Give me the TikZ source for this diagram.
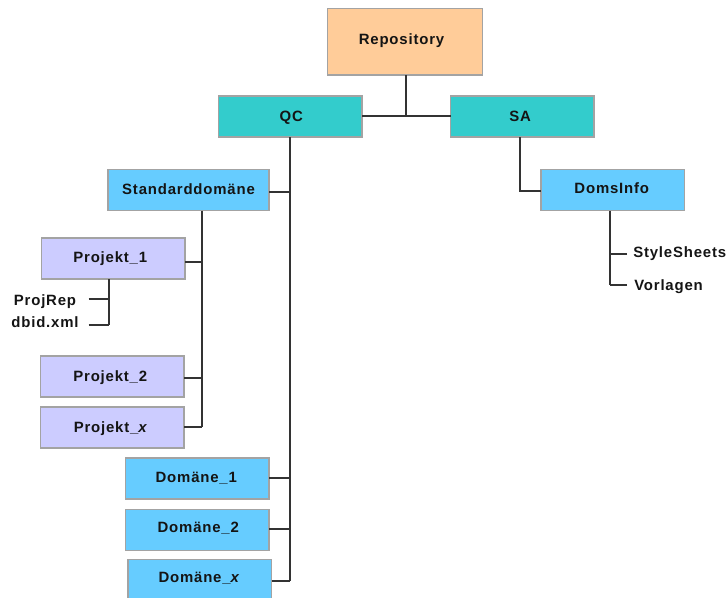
\documentclass[tikz,border=0pt]{standalone}
\usepackage{fontspec}
\setmainfont[LetterSpace=5.5]{Liberation Sans}
\definecolor{orangebox}{HTML}{FFCC99}
\definecolor{tealbox}{HTML}{33CCCC}
\definecolor{bluebox}{HTML}{66CCFF}
\definecolor{lavbox}{HTML}{CCCCFF}
\definecolor{edgegray}{HTML}{A3A3A3}
\definecolor{wire}{HTML}{333333}
\definecolor{ink}{HTML}{141414}
\tikzset{
  lbl/.style={font=\fontsize{11.2}{13}\selectfont\bfseries, text=ink, inner sep=0pt},
  box/.style={draw=edgegray, line width=1.1pt, inner sep=0pt, outer sep=0pt, anchor=north west},
  wirel/.style={draw=wire, line width=1.15pt},
  bigb/.style={box, minimum width=143.5*0.75pt, minimum height=41*0.75pt},
}
\begin{document}
\begin{tikzpicture}[x=0.75pt,y=-0.75pt]
\useasboundingbox (0,0) rectangle (727,597);
\clip (0,0) rectangle (727,597);
% boxes
\node[box, fill=orangebox, minimum width=155*0.75pt, minimum height=66.5*0.75pt,
      label={[lbl,xshift=-3.5*0.75pt,yshift=1.5*0.75pt]center:Repository}] (rep) at (327.5,8.5) {};
\node[bigb, fill=tealbox, label={[lbl,xshift=1*0.75pt,yshift=-1.5*0.75pt]center:QC}] (qc) at (218.5,96) {};
\node[bigb, fill=tealbox, label={[lbl,xshift=-2*0.75pt,yshift=0.5*0.75pt]center:SA}] (sa) at (450.5,96) {};
\node[box, fill=bluebox, minimum width=161*0.75pt, minimum height=41*0.75pt,
      label={[lbl,xshift=0*0.75pt,yshift=0.5*0.75pt]center:Standarddomäne}] (std) at (108,169.5) {};
\node[bigb, fill=bluebox, label={[lbl,xshift=-1*0.75pt,yshift=1.5*0.75pt]center:DomsInfo}] (doms) at (541,169.5) {};
\node[bigb, fill=lavbox, label={[lbl,xshift=-3*0.75pt,yshift=0*0.75pt]center:Projekt\_1}] (p1) at (41.5,238) {};
\node[bigb, fill=lavbox, label={[lbl,xshift=-2*0.75pt,yshift=-1*0.75pt]center:Projekt\_2}] (p2) at (40.5,356) {};
\node[bigb, fill=lavbox, label={[lbl,xshift=-2*0.75pt,yshift=-1*0.75pt]center:Projekt\_{\itshape x}}] (px) at (40.5,407) {};
\node[bigb, fill=bluebox, label={[lbl,xshift=-1*0.75pt,yshift=0*0.75pt]center:Domäne\_1}] (d1) at (125.5,458) {};
\node[bigb, fill=bluebox, label={[lbl,xshift=1*0.75pt,yshift=1.5*0.75pt]center:Domäne\_2}] (d2) at (125.5,509.5) {};
\node[bigb, fill=bluebox, label={[lbl,xshift=-1*0.75pt,yshift=1.5*0.75pt]center:Domäne\_{\itshape x}}] (dx) at (128,559.5) {};
% plain labels
\node[lbl] (projrep) at (45,302) {ProjRep};
\node[lbl] (dbid) at (45,322) {dbid.xml};
\node[lbl, anchor=west] (style) at (633,254) {StyleSheets};
\node[lbl, anchor=west] (vorl) at (634,287) {Vorlagen};
% junction coordinates
\coordinate (repj) at (406,116);
\coordinate (qct) at (290,581);
\coordinate (stdt) at (202,427);
\coordinate (p1t) at (109,325);
\coordinate (domst) at (610,285);
\coordinate (saj) at (520,191);
\coordinate (prend) at (88.5,299);
\coordinate (dbend) at (88.5,325);
\coordinate (ssend) at (627,254);
\coordinate (voend) at (627,285);
\coordinate (stdj) at (290,192);
\coordinate (d1j) at (290,478);
\coordinate (d2j) at (290,529);
\coordinate (p1j) at (202,262);
\coordinate (p2j) at (202,378);
% connectors
\draw[wirel] (repj |- rep.south) -- (repj);
\draw[wirel] (qc.east |- repj) -- (sa.west |- repj);
\draw[wirel] (qct |- qc.south) -- (qct);
\draw[wirel] (std.east |- stdj) -- (stdj);
\draw[wirel] (d1.east |- d1j) -- (d1j);
\draw[wirel] (d2.east |- d2j) -- (d2j);
\draw[wirel] (dx.east |- qct) -- (qct);
\draw[wirel] (stdt |- std.south) -- (stdt);
\draw[wirel] (p1.east |- p1j) -- (p1j);
\draw[wirel] (p2.east |- p2j) -- (p2j);
\draw[wirel] (px.east |- stdt) -- (stdt);
\draw[wirel] (p1t |- p1.south) -- (p1t);
\draw[wirel] (prend) -- (prend -| p1t);
\draw[wirel] (dbend) -- (p1t);
\draw[wirel] (saj |- sa.south) -- (saj) -- (doms.west |- saj);
\draw[wirel] (domst |- doms.south) -- (domst);
\draw[wirel] (ssend) -- (ssend -| domst);
\draw[wirel] (voend) -- (domst);
\end{tikzpicture}
\end{document}
